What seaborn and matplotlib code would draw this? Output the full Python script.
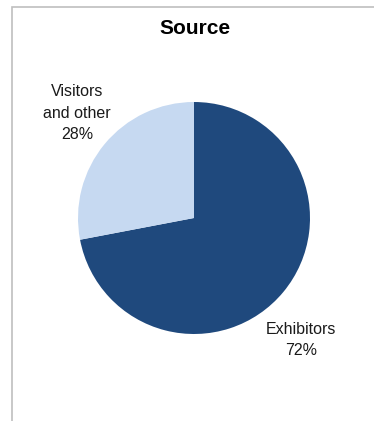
import matplotlib
matplotlib.use("Agg")
import matplotlib.pyplot as plt
from matplotlib import font_manager
from matplotlib.patches import Rectangle
import seaborn as sns

# Share of revenue by source
categories = ["Exhibitors", "Visitors\nand other"]
shares = [72, 28]
title = "Source"

sns.set_theme(style="white")
available = {f.name for f in font_manager.fontManager.ttflist}
family = "Liberation Sans Narrow" if "Liberation Sans Narrow" in available else "Liberation Sans"
plt.rcParams["font.family"] = [family, "DejaVu Sans"]

colors = ["#1F497D", "#C6D9F1"]

W, H = 374, 421
fig = plt.figure(figsize=(W / 100, H / 100), dpi=100)
fig.patch.set_facecolor("white")

# thin gray frame around the chart area (open to the right and bottom)
fig.patches.append(Rectangle((12 / W, -0.1), 1.2, 1.1 - 7 / H,
                             transform=fig.transFigure, fill=False,
                             edgecolor="#BFBFBF", linewidth=1.2))

cx, cy, r = 194, 218, 116
ax = fig.add_axes([(cx - r) / W, (H - cy - r) / H, 2 * r / W, 2 * r / H])
ax.pie(shares, colors=colors, startangle=90, counterclock=False,
       wedgeprops=dict(linewidth=0))
ax.set_xlim(-1, 1)
ax.set_ylim(-1, 1)
ax.set_aspect("equal")

label_pos = [(0.922, -1.052), (-1.009, 0.905)]
for name, val, (x, y) in zip(categories, shares, label_pos):
    ax.text(x, y, f"{name}\n{val}%", ha="center", va="center",
            fontsize=11.5, color="#1A1A1A", linespacing=1.55, clip_on=False)

fig.text(195 / W, 1 - 29 / H, title, ha="center", va="center",
         fontsize=15, fontweight="bold", color="black")

fig.savefig("out.png", dpi=100, facecolor="white")
